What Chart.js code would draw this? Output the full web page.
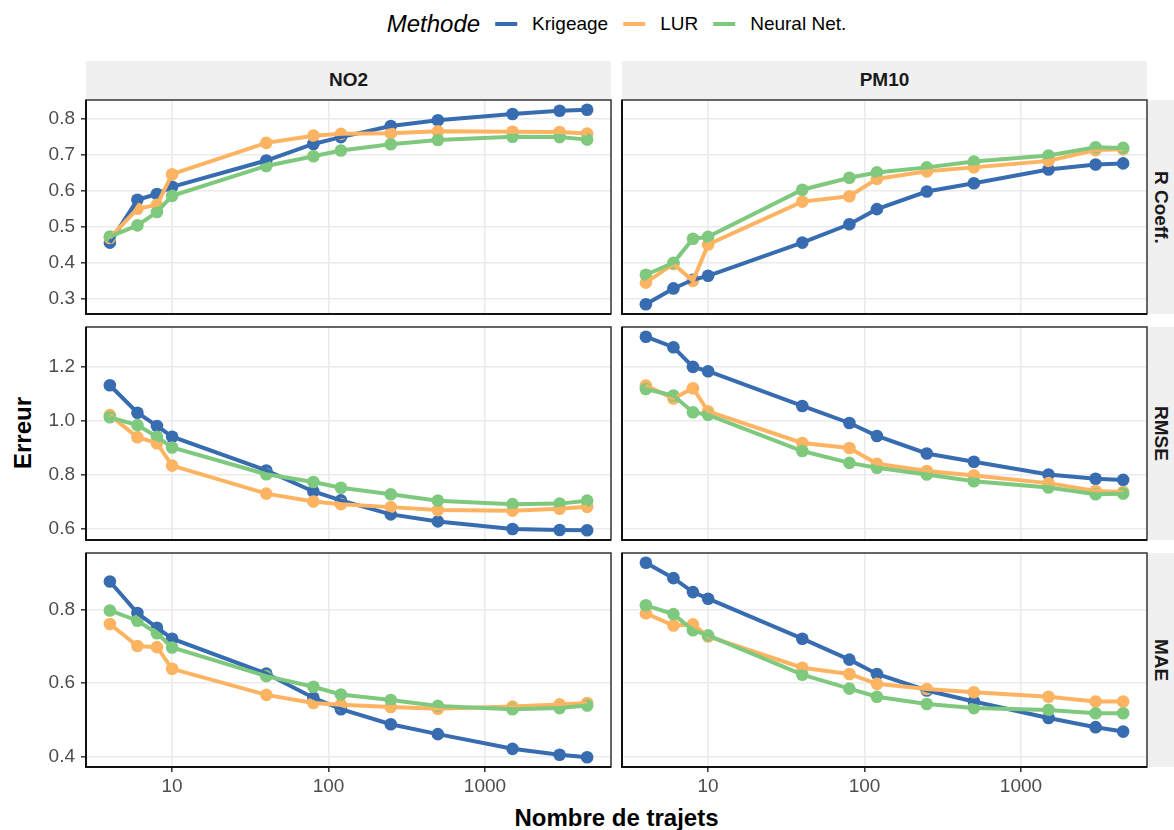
<!DOCTYPE html>
<html><head><meta charset="utf-8">
<script src="https://cdn.jsdelivr.net/npm/chart.js@4.4.1/dist/chart.umd.min.js"></script>
<style>
html,body{margin:0;padding:0;background:#fff;}
body{width:1174px;height:830px;position:relative;overflow:hidden;font-family:"Liberation Sans",Arial,sans-serif;}
canvas{position:absolute;}
.strip{position:absolute;background:#F0F0F0;color:#1A1A1A;font-weight:bold;font-size:19px;display:flex;align-items:center;justify-content:center;}
.vstrip{writing-mode:vertical-rl;}
#legend{position:absolute;left:616.5px;top:9px;height:30px;transform:translateX(-50%);display:flex;align-items:center;white-space:nowrap;}
#legend .title{font-style:italic;font-size:24px;margin-right:15px;}
#legend .key{width:22px;height:4px;margin-right:15px;}
#legend .lab{font-size:19px;margin-right:15px;}
#ytitle{position:absolute;left:22.5px;top:433px;transform:translate(-50%,-50%) rotate(-90deg);font-weight:bold;font-size:24px;white-space:nowrap;}
#xtitle{position:absolute;left:616.5px;top:804px;transform:translateX(-50%);font-weight:bold;font-size:24px;white-space:nowrap;}
</style></head><body>
<div id="legend"></div>
<div id="ytitle">Erreur</div>
<div id="xtitle">Nombre de trajets</div>
<script>
// ---- data ----
const nTrajets = [4, 6, 8, 10, 40, 80, 120, 250, 500, 1500, 3000, 4500];
const methods = ['Krigeage', 'LUR', 'Neural Net.'];
const pollutants = ['NO2', 'PM10'];
const metrics = ['R Coeff.', 'RMSE', 'MAE'];
const xTicks = [10, 100, 1000];
const yTicksR = [0.3, 0.4, 0.5, 0.6, 0.7, 0.8];
const yTicksRMSE = [0.6, 0.8, 1.0, 1.2];
const yTicksMAE = [0.4, 0.6, 0.8];

const no2R_krig = [0.455, 0.574, 0.590, 0.610, 0.683, 0.729, 0.748, 0.779, 0.795, 0.812, 0.821, 0.824];
const no2R_lur  = [0.468, 0.549, 0.560, 0.645, 0.732, 0.752, 0.757, 0.759, 0.764, 0.763, 0.762, 0.758];
const no2R_nn   = [0.472, 0.503, 0.540, 0.585, 0.668, 0.695, 0.711, 0.728, 0.740, 0.749, 0.748, 0.741];

const pm10R_krig = [0.284, 0.328, 0.352, 0.363, 0.455, 0.506, 0.548, 0.597, 0.620, 0.658, 0.672, 0.675];
const pm10R_lur  = [0.344, 0.396, 0.349, 0.450, 0.569, 0.584, 0.632, 0.653, 0.664, 0.682, 0.712, 0.714];
const pm10R_nn   = [0.366, 0.399, 0.466, 0.471, 0.602, 0.635, 0.650, 0.664, 0.680, 0.697, 0.720, 0.718];

const no2RMSE_krig = [1.131, 1.029, 0.980, 0.940, 0.815, 0.737, 0.704, 0.652, 0.626, 0.598, 0.594, 0.593];
const no2RMSE_lur  = [1.020, 0.938, 0.916, 0.833, 0.729, 0.700, 0.690, 0.679, 0.668, 0.666, 0.673, 0.680];
const no2RMSE_nn   = [1.012, 0.983, 0.940, 0.900, 0.801, 0.772, 0.751, 0.727, 0.703, 0.690, 0.692, 0.703];

const pm10RMSE_krig = [1.311, 1.272, 1.199, 1.183, 1.054, 0.991, 0.943, 0.878, 0.847, 0.800, 0.784, 0.780];
const pm10RMSE_lur  = [1.130, 1.082, 1.120, 1.034, 0.917, 0.898, 0.840, 0.813, 0.796, 0.768, 0.739, 0.735];
const pm10RMSE_nn   = [1.117, 1.093, 1.031, 1.021, 0.887, 0.843, 0.825, 0.800, 0.775, 0.752, 0.727, 0.729];

const no2MAE_krig = [0.877, 0.791, 0.751, 0.721, 0.626, 0.560, 0.529, 0.488, 0.461, 0.421, 0.405, 0.398];
const no2MAE_lur  = [0.761, 0.701, 0.698, 0.639, 0.568, 0.546, 0.541, 0.535, 0.530, 0.536, 0.542, 0.546];
const no2MAE_nn   = [0.798, 0.770, 0.736, 0.697, 0.619, 0.590, 0.569, 0.554, 0.538, 0.529, 0.532, 0.539];

const pm10MAE_krig = [0.928, 0.886, 0.848, 0.830, 0.721, 0.664, 0.625, 0.580, 0.550, 0.505, 0.480, 0.468];
const pm10MAE_lur  = [0.790, 0.757, 0.760, 0.727, 0.642, 0.625, 0.598, 0.584, 0.575, 0.563, 0.550, 0.550];
const pm10MAE_nn   = [0.812, 0.788, 0.744, 0.730, 0.623, 0.585, 0.563, 0.543, 0.532, 0.527, 0.518, 0.518];

// ---- styling / layout ----
const colors = ['#386CB0', '#FDB462', '#7FC97F'];
const FONT = "'Liberation Sans', Arial, sans-serif";
Chart.defaults.font.family = FONT;

const panels = [
  [[no2R_krig, no2R_lur, no2R_nn], [pm10R_krig, pm10R_lur, pm10R_nn]],
  [[no2RMSE_krig, no2RMSE_lur, no2RMSE_nn], [pm10RMSE_krig, pm10RMSE_lur, pm10RMSE_nn]],
  [[no2MAE_krig, no2MAE_lur, no2MAE_nn], [pm10MAE_krig, pm10MAE_lur, pm10MAE_nn]]
];
const rowTicks = [yTicksR, yTicksRMSE, yTicksMAE];

const colL = [86, 622], colR = [611, 1147];
const rowT = [100, 327, 553], rowB = [314, 540, 767];
const AX_W = 70, PAD_T = 24, PAD_R = 10, AX_H = 45;

// x range: log10 expanded 5%
const lx0 = Math.log10(Math.min(...nTrajets)), lx1 = Math.log10(Math.max(...nTrajets));
const ex = (lx1 - lx0) * 0.05;
const xMin = Math.pow(10, lx0 - ex), xMax = Math.pow(10, lx1 + ex);

const borderPlugin = {
  id: 'panelBorder',
  afterDraw(chart) {
    const {ctx, chartArea: a} = chart;
    ctx.save();
    ctx.strokeStyle = '#333333';
    ctx.lineWidth = 1.5;
    ctx.strokeRect(a.left, a.top, a.right - a.left, a.bottom - a.top);
    ctx.strokeStyle = '#111111';
    ctx.lineWidth = 2;
    ctx.beginPath();
    ctx.moveTo(a.left, a.top);
    ctx.lineTo(a.left, a.bottom);
    ctx.lineTo(a.right, a.bottom);
    ctx.stroke();
    ctx.restore();
  }
};

for (let r = 0; r < 3; r++) {
  const all = panels[r].flat(2);
  const y0 = Math.min(...all), y1 = Math.max(...all);
  const ey = (y1 - y0) * 0.05;
  const yMin = y0 - ey, yMax = y1 + ey;
  for (let c = 0; c < 2; c++) {
    const L = colL[c], R = colR[c], T = rowT[r], B = rowB[r];
    const cv = document.createElement('canvas');
    const W = R - L + AX_W + PAD_R, H = B - T + PAD_T + AX_H;
    cv.width = W; cv.height = H;
    cv.style.left = (L - AX_W) + 'px';
    cv.style.top = (T - PAD_T) + 'px';
    cv.style.width = W + 'px'; cv.style.height = H + 'px';
    document.body.appendChild(cv);
    const isLeft = c === 0, isBottom = r === 2;
    const datasets = [];
    panels[r][c].forEach((vals, i) => {
      const pts = nTrajets.map((x, k) => ({x: x, y: vals[k]}));
      datasets.push({
        label: methods[i] + ' line', data: pts, borderColor: colors[i], borderWidth: 4,
        pointRadius: 0, fill: false, tension: 0, order: 3 - i, clip: 10
      });
      datasets.push({
        label: methods[i], data: pts, showLine: false, pointRadius: 6.3, pointBorderWidth: 0,
        pointBackgroundColor: colors[i], borderColor: colors[i], order: 6 - i, clip: 10
      });
    });
    new Chart(cv, {
      type: 'line',
      data: {datasets},
      plugins: [borderPlugin],
      options: {
        responsive: false, animation: false, events: [], devicePixelRatio: 1,
        layout: {padding: {left: 0, top: PAD_T, right: PAD_R, bottom: 0}},
        plugins: {legend: {display: false}, tooltip: {enabled: false}, title: {display: false}},
        scales: {
          x: {
            type: 'logarithmic', min: xMin, max: xMax,
            afterBuildTicks: a => { a.ticks = xTicks.map(v => ({value: v})); },
            afterFit: s => { s.height = AX_H; },
            grid: {color: '#EBEBEB', lineWidth: 1.6, drawTicks: isBottom, tickLength: 5, tickColor: '#333333', tickWidth: 1.5},
            border: {display: false},
            ticks: {display: isBottom, color: '#4D4D4D', font: {size: 19}, padding: 3, maxRotation: 0, autoSkip: false,
                    callback: v => String(v)}
          },
          y: {
            type: 'linear', min: yMin, max: yMax,
            afterBuildTicks: a => { a.ticks = rowTicks[r].map(v => ({value: v})); },
            afterFit: s => { s.width = AX_W; },
            grid: {color: '#EBEBEB', lineWidth: 1.6, drawTicks: isLeft, tickLength: 5, tickColor: '#333333', tickWidth: 1.5},
            border: {display: false},
            ticks: {display: isLeft, color: '#4D4D4D', font: {size: 19}, padding: 6, autoSkip: false,
                    callback: v => Number(v).toFixed(1)}
          }
        }
      }
    });
  }
}

// strips
pollutants.forEach((p, c) => {
  const d = document.createElement('div');
  d.className = 'strip';
  d.style.left = colL[c] + 'px'; d.style.top = '61px';
  d.style.width = (colR[c] - colL[c]) + 'px'; d.style.height = '38px';
  d.textContent = p;
  document.body.appendChild(d);
});
metrics.forEach((m, r) => {
  const d = document.createElement('div');
  d.className = 'strip vstrip';
  d.style.left = '1148px'; d.style.top = rowT[r] + 'px';
  d.style.width = '26px'; d.style.height = (rowB[r] - rowT[r]) + 'px';
  d.textContent = m;
  document.body.appendChild(d);
});

// legend
const lg = document.getElementById('legend');
const t = document.createElement('span'); t.className = 'title'; t.textContent = 'Methode'; lg.appendChild(t);
methods.forEach((m, i) => {
  const k = document.createElement('span'); k.className = 'key'; k.style.background = colors[i]; lg.appendChild(k);
  const l = document.createElement('span'); l.className = 'lab'; l.textContent = m;
  if (i === methods.length - 1) l.style.marginRight = '0';
  lg.appendChild(l);
});
</script>
</body></html>
